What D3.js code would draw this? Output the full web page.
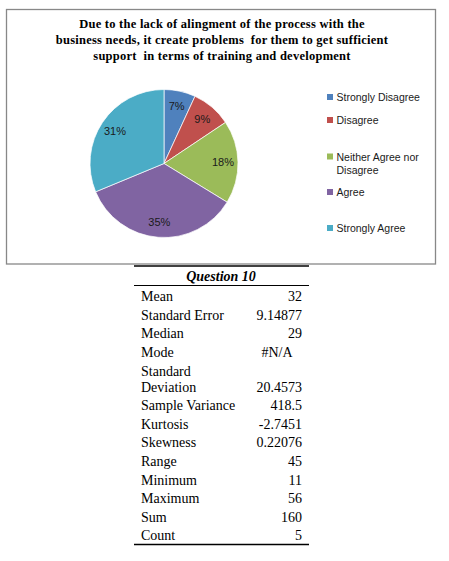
<!DOCTYPE html>
<html>
<head>
<meta charset="utf-8">
<script src="https://cdn.jsdelivr.net/npm/d3@7"></script>
<style>
  body { margin: 0; background: #fff; }
  svg { display: block; }
</style>
</head>
<body>
<svg id="chart" width="449" height="561"></svg>
<script>
// survey answers (counts) for question 10
const categories = ["Strongly Disagree", "Disagree", "Neither Agree nor Disagree", "Agree", "Strongly Agree"]
const counts = [11, 14, 29, 56, 50]
const sliceColors = ["#4F81BD", "#C0504D", "#9BBB59", "#8064A2", "#4BACC6"]

const titleLines = [
    "Due to the lack of alingment of the process with the",
    "business needs, it create problems  for them to get sufficient",
    "support  in terms of training and development"
]

// descriptive statistics table
const statLabels = ["Mean", "Standard Error", "Median", "Mode", "Standard Deviation", "Sample Variance",
    "Kurtosis", "Skewness", "Range", "Minimum", "Maximum", "Sum", "Count"]
const statValues = ["32", "9.14877", "29", "#N/A", "20.4573", "418.5",
    "-2.7451", "0.22076", "45", "11", "56", "160", "5"]
const tableTitle = "Question 10"

const svg = d3.select("#chart")

// chart frame
svg.append("rect")
    .attr("x", 6.5).attr("y", 9.5)
    .attr("width", 429).attr("height", 254.5)
    .attr("fill", "#fff")
    .attr("stroke", "#888")
    .attr("stroke-width", 1.3)

svg.append("g")
    .selectAll("text")
    .data(titleLines)
    .join("text")
    .attr("x", 222)
    .attr("y", (d, i) => 24 + i * 16)
    .attr("text-anchor", "middle")
    .attr("dominant-baseline", "central")
    .attr("font-family", "Liberation Serif, Times New Roman, serif")
    .attr("font-weight", "bold")
    .attr("font-size", 12.5)
    .attr("letter-spacing", 0.25)
    .attr("fill", "#000")
    .style("white-space", "pre")
    .text(d => d)

// pie
const total = d3.sum(counts)
const radius = 74
const pie = d3.pie().sort(null).value(d => d)
const arcs = pie(counts)
const arc = d3.arc().innerRadius(0).outerRadius(radius)
const labelArc = d3.arc().innerRadius(59).outerRadius(59)
const color = d3.scaleOrdinal().domain(categories).range(sliceColors)

const pieG = svg.append("g").attr("transform", "translate(164,163.5)")

pieG.selectAll("path")
    .data(arcs)
    .join("path")
    .attr("d", arc)
    .attr("fill", (d, i) => color(categories[i]))
    .attr("stroke", "#fff")
    .attr("stroke-width", 0.7)

pieG.selectAll("text")
    .data(arcs)
    .join("text")
    .attr("transform", d => `translate(${labelArc.centroid(d)})`)
    .attr("text-anchor", "middle")
    .attr("dominant-baseline", "central")
    .attr("font-family", "Liberation Sans, Arial, sans-serif")
    .attr("font-size", 11)
    .attr("fill", "#1a1a1a")
    .text(d => Math.round(d.data / total * 100) + "%")

// legend
const legendY = [97, 120, 156.5, 192, 228]
const legendLines = [["Strongly Disagree"], ["Disagree"], ["Neither Agree nor", "Disagree"], ["Agree"], ["Strongly Agree"]]

const legend = svg.append("g")
    .selectAll("g")
    .data(categories)
    .join("g")
    .attr("transform", (d, i) => `translate(327,${legendY[i]})`)

legend.append("rect")
    .attr("x", 0).attr("y", -3)
    .attr("width", 6).attr("height", 6)
    .attr("fill", d => color(d))

legend.append("text")
    .attr("font-family", "Liberation Sans, Arial, sans-serif")
    .attr("font-size", 10.5)
    .attr("fill", "#1a1a1a")
    .selectAll("tspan")
    .data((d, i) => legendLines[i])
    .join("tspan")
    .attr("x", 9.5)
    .attr("y", (d, j) => j * 13.5)
    .attr("dominant-baseline", "central")
    .text(d => d)

// stats table
const tableFont = "Liberation Serif, Times New Roman, serif"
const tLeft = 134, tRight = 309
const rowH = 18.6
const sdIndex = statLabels.indexOf("Standard Deviation")
const rowY = i => 296.7 + i * rowH + (i > sdIndex ? 16 : 0)

svg.append("line")
    .attr("x1", tLeft).attr("x2", tRight)
    .attr("y1", 266).attr("y2", 266)
    .attr("stroke", "#000").attr("stroke-width", 1.4)

svg.append("text")
    .attr("x", 221).attr("y", 276)
    .attr("text-anchor", "middle")
    .attr("dominant-baseline", "central")
    .attr("font-family", tableFont)
    .attr("font-size", 14)
    .attr("font-weight", "bold")
    .attr("font-style", "italic")
    .text(tableTitle)

svg.append("line")
    .attr("x1", tLeft).attr("x2", tRight)
    .attr("y1", 285.5).attr("y2", 285.5)
    .attr("stroke", "#000").attr("stroke-width", 1.2)

const rows = svg.append("g")
    .selectAll("g")
    .data(statLabels)
    .join("g")

rows.append("text")
    .attr("font-family", tableFont)
    .attr("font-size", 14)
    .attr("fill", "#000")
    .selectAll("tspan")
    .data((d, i) => (i === sdIndex ? ["Standard", "Deviation"] : [d]).map((t, j) => ({t, y: rowY(i) + j * 16})))
    .join("tspan")
    .attr("x", 141)
    .attr("y", d => d.y)
    .attr("dominant-baseline", "central")
    .text(d => d.t)

rows.append("text")
    .attr("x", (d, i) => statValues[i] === "#N/A" ? 277 : 302)
    .attr("y", (d, i) => rowY(i) + (i === sdIndex ? 16 : 0))
    .attr("text-anchor", (d, i) => statValues[i] === "#N/A" ? "middle" : "end")
    .attr("dominant-baseline", "central")
    .attr("font-family", tableFont)
    .attr("font-size", 14)
    .attr("fill", "#000")
    .text((d, i) => statValues[i])

svg.append("line")
    .attr("x1", tLeft).attr("x2", tRight)
    .attr("y1", 544.5).attr("y2", 544.5)
    .attr("stroke", "#000").attr("stroke-width", 1.4)
</script>
</body>
</html>
